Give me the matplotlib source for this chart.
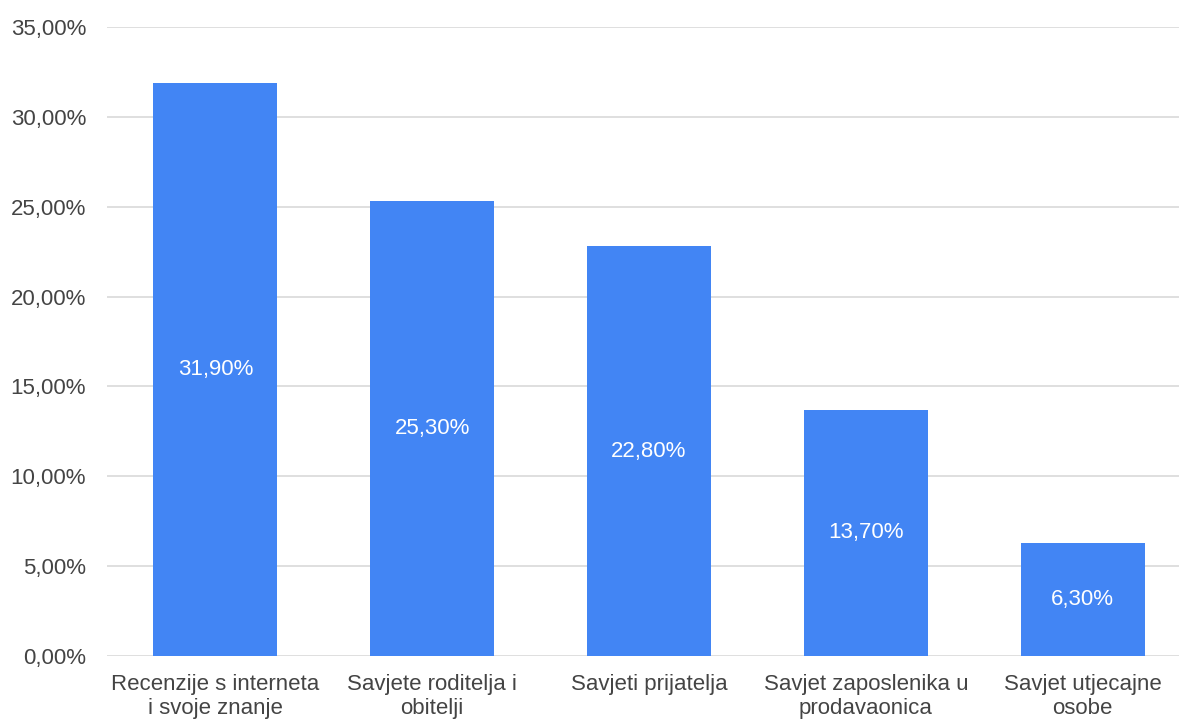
import matplotlib.pyplot as plt
from matplotlib.ticker import FuncFormatter

plt.rcParams['font.family'] = ['Liberation Sans', 'DejaVu Sans']

categories = [
    "Recenzije s interneta\ni svoje znanje",
    "Savjete roditelja i\nobitelji",
    "Savjeti prijatelja",
    "Savjet zaposlenika u\nprodavaonica",
    "Savjet utjecajne\nosobe",
]
values = [31.9, 25.3, 22.8, 13.7, 6.3]
y_ticks = [0, 5, 10, 15, 20, 25, 30, 35]

BAR_COLOR = "#4285F4"
TEXT_COLOR = "#444444"

fig = plt.figure(figsize=(11.79, 7.2), dpi=100)
# axes right edge runs past the figure, like the source chart
ax = fig.add_axes([107 / 1179, 1 - 656 / 720, 1084 / 1179, 629 / 720])

x = range(len(categories))
bars = ax.bar(x, values, width=0.572, color=BAR_COLOR, zorder=2)

for b, v in zip(bars, values):
    ax.text(b.get_x() + b.get_width() / 2, v / 2, f"{v:.2f}%".replace(".", ","),
            ha="center", va="center", color="white", fontsize=16)

ax.set_xlim(-0.5, len(categories) - 0.5)
ax.set_ylim(0, 35)
ax.set_yticks(y_ticks)
ax.yaxis.set_major_formatter(FuncFormatter(lambda v, p: f"{v:.2f}%".replace(".", ",")))
ax.set_xticks(list(x))
ax.set_xticklabels(categories, linespacing=1.2)

ax.grid(axis="y", color="#d9d9d9", linewidth=1.2, zorder=0)
for s in ax.spines.values():
    s.set_visible(False)
ax.tick_params(axis="both", length=0, labelsize=16, colors=TEXT_COLOR)
ax.tick_params(axis="y", pad=15)
ax.tick_params(axis="x", pad=13)

fig.savefig("out.png", dpi=100)
